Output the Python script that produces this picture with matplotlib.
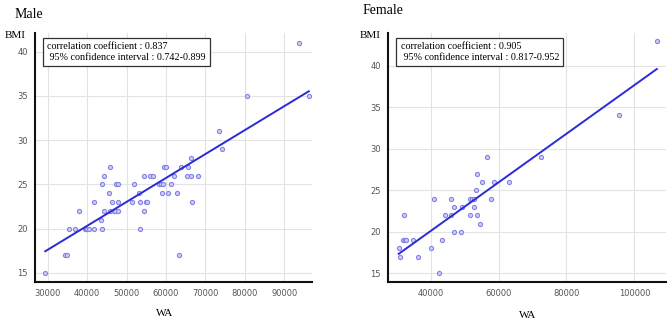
import numpy as np
import matplotlib
matplotlib.use("Agg")
import matplotlib.pyplot as plt

# values
male_wa = [29400, 34500, 35000, 35300, 37000, 37900, 39400, 39800, 40100, 40400,
           41800, 41800, 43500, 43900, 43800, 44200, 44200, 45500, 45800, 45800,
           46200, 46700, 47200, 47400, 47900, 47900, 47900, 51500, 52000, 53200,
           53500, 53500, 54500, 54500, 54900, 55300, 56000, 56700, 58200, 58700,
           59200, 59100, 59400, 60100, 60600, 61400, 62000, 62900, 63400, 63800,
           65400, 65700, 66400, 66400, 66500, 68100, 73400, 74100, 80600, 93700,
           96200]
male_bmi = [15, 17, 17, 20, 20, 22, 20, 20, 20, 20,
            23, 20, 21, 20, 25, 26, 22, 24, 27, 22,
            23, 22, 22, 25, 25, 23, 22, 23, 25, 24,
            23, 20, 26, 22, 23, 23, 26, 26, 25, 25,
            25, 24, 27, 27, 24, 25, 26, 24, 17, 27,
            26, 27, 26, 28, 23, 26, 31, 29, 35, 41,
            35]

female_wa = [30600, 31000, 32200, 31900, 32500, 32800, 34900, 36300, 40200, 41000,
             42500, 43300, 44200, 45900, 46100, 47000, 47000, 49000, 49200, 51500,
             51700, 52300, 52700, 52700, 53300, 53600, 53700, 54600, 55100, 56600,
             57900, 58700, 63200, 72500, 95600, 106600]
female_bmi = [18, 17, 22, 19, 19, 19, 19, 17, 18, 24,
              15, 19, 22, 24, 22, 23, 20, 20, 23, 22,
              24, 24, 24, 23, 25, 22, 27, 21, 26, 29,
              24, 26, 26, 29, 34, 43]

male_text = "correlation coefficient : 0.837\n 95% confidence interval : 0.742-0.899"
female_text = "correlation coefficient : 0.905\n 95% confidence interval : 0.817-0.952"

serif = "Liberation Serif"

fig = plt.figure(figsize=(6.69, 3.22), dpi=100)


def panel(rect, wa, bmi, xlim, ylim, xticks, note):
    ax = fig.add_axes(rect)
    ax.scatter(wa, bmi, s=9, facecolor="#cdcdf5", edgecolor="#8585e6",
               linewidths=0.8, zorder=3)
    k, b = np.polyfit(wa, bmi, 1)
    xs = np.array([min(wa), max(wa)])
    ax.plot(xs, k * xs + b, color="#2a2ad8", lw=1.4, zorder=4)
    ax.set_xlim(*xlim)
    ax.set_ylim(*ylim)
    ax.set_xticks(xticks)
    ax.set_yticks([15, 20, 25, 30, 35, 40])
    ax.grid(True, color="#e3e3e3", lw=0.8)
    ax.set_axisbelow(True)
    for s in ["top", "right"]:
        ax.spines[s].set_visible(False)
    for s in ["left", "bottom"]:
        ax.spines[s].set_linewidth(1.5)
        ax.spines[s].set_color("#111111")
    ax.tick_params(length=0, labelsize=6, labelcolor="#555555", pad=5)
    ax.text(0.045, 0.965, note, transform=ax.transAxes, va="top", ha="left",
            fontsize=7.3, family=serif, linespacing=1.3,
            bbox=dict(boxstyle="square,pad=0.4", fc="white", ec="#333333", lw=0.9))
    return ax


panel([0.0523, 0.125, 0.414, 0.772], male_wa, male_bmi,
      (26800, 97000), (14.0, 42.1), [30000, 40000, 50000, 60000, 70000, 80000, 90000],
      male_text)
panel([0.58, 0.125, 0.4155, 0.772], female_wa, female_bmi,
      (27450, 109300), (14.0, 43.9), [40000, 60000, 80000, 100000],
      female_text)

fig.text(15 / 669, 1 - 14 / 322, "Male", family=serif, fontsize=10, va="center")
fig.text(363 / 669, 1 - 11 / 322, "Female", family=serif, fontsize=10, va="center")
fig.text(5 / 669, 1 - 36 / 322, "BMI", family=serif, fontsize=8, va="center")
fig.text(360 / 669, 1 - 35 / 322, "BMI", family=serif, fontsize=8, va="center")
fig.text(165 / 669, 1 - 313 / 322, "WA", family=serif, fontsize=8, va="center", ha="center")
fig.text(528 / 669, 1 - 315 / 322, "WA", family=serif, fontsize=8, va="center", ha="center")

fig.savefig("out.png", dpi=100)
